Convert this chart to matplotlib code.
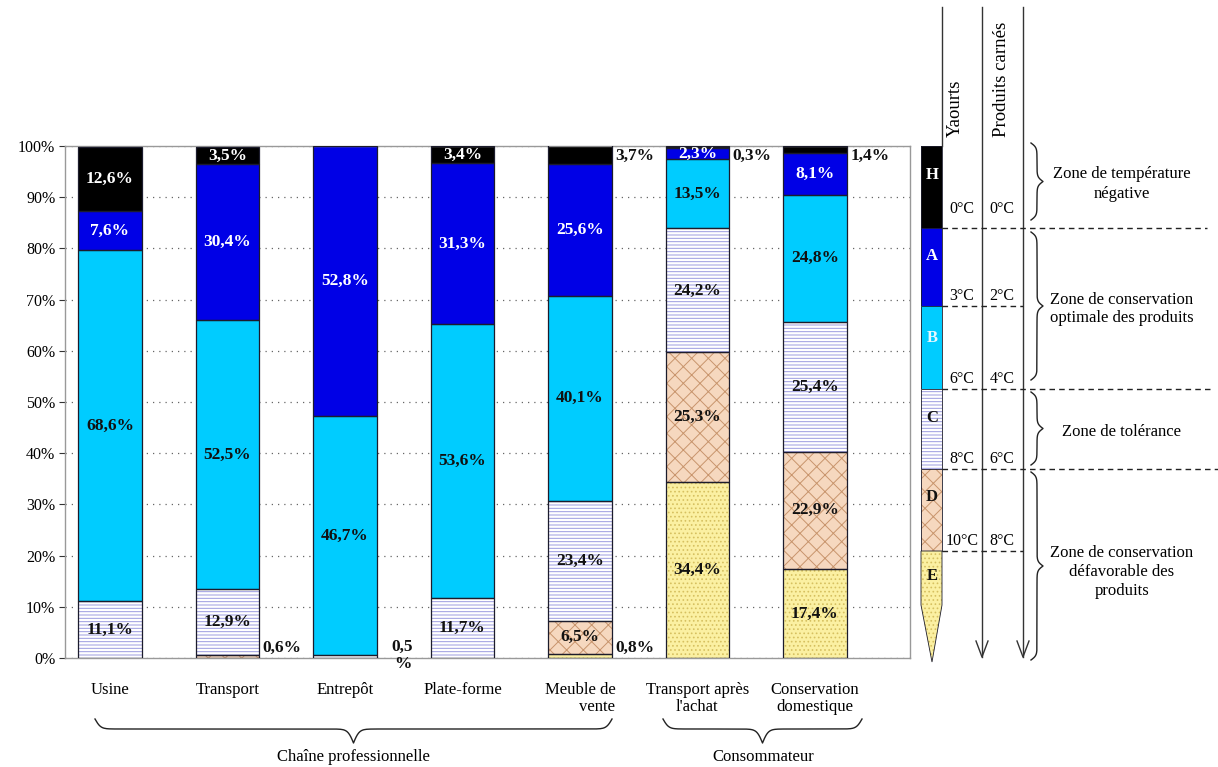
import numpy as np
import matplotlib
matplotlib.use("Agg")
import matplotlib.pyplot as plt
from matplotlib.patches import Rectangle, Polygon

plt.rcParams['font.family'] = ['Liberation Serif', 'DejaVu Serif']
plt.rcParams['hatch.linewidth'] = 0.7

# data, bottom to top: E, D, C, B, A, H (in %)
categories = ["Usine", "Transport", "Entrepôt", "Plate-forme", "Meuble de\nvente",
              "Transport après\nl'achat", "Conservation\ndomestique"]
groups = ["Chaîne professionnelle", "Consommateur"]
E_vals = [0, 0, 0, 0, 0.8, 34.4, 17.4]
D_vals = [0, 0.6, 0, 0, 6.5, 25.3, 22.9]
C_vals = [11.1, 12.9, 0.5, 11.7, 23.4, 24.2, 25.4]
B_vals = [68.6, 52.5, 46.7, 53.6, 40.1, 13.5, 24.8]
A_vals = [7.6, 30.4, 52.8, 31.3, 25.6, 2.3, 8.1]
H_vals = [12.6, 3.5, 0, 3.4, 3.7, 0.3, 1.4]
yticks = [0, 10, 20, 30, 40, 50, 60, 70, 80, 90, 100]

# labels written next to the bar instead of inside
outside = {('D', 1), ('C', 2), ('E', 4), ('H', 4), ('H', 5), ('H', 6)}

zones = ["Zone de température\nnégative", "Zone de conservation\noptimale des produits",
         "Zone de tolérance", "Zone de conservation\ndéfavorable des\nproduits"]
temp_yaourts = ["0°C", "3°C", "6°C", "8°C", "10°C"]
temp_carnes = ["0°C", "2°C", "4°C", "6°C", "8°C"]

# style of each series: face, hatch, hatch colour, text colour
styles = {
    'E': ('#fbf0a2', '....', '#d6c060', '#111111'),
    'D': ('#f6d8bf', 'xx', '#c8946c', '#111111'),
    'C': ('#ffffff', '-----', '#9b9be0', '#111111'),
    'B': ('#00ccff', None, '#00ccff', '#111111'),
    'A': ('#0000e6', None, '#0000e6', '#ffffff'),
    'H': ('#000000', None, '#000000', '#ffffff'),
}
series = [('E', E_vals), ('D', D_vals), ('C', C_vals), ('B', B_vals), ('A', A_vals), ('H', H_vals)]

fig = plt.figure(figsize=(12.18, 7.67), dpi=100)
W, Hpx = 1218, 767
ax = fig.add_axes([65 / W, (Hpx - 658) / Hpx, (910 - 65) / W, (658 - 146) / Hpx])

x = np.arange(len(categories))
width = 0.54
bottom = np.zeros(len(categories))
for name, vals in series:
    vals = np.array(vals, dtype=float)
    face, hatch, hcol, tcol = styles[name]
    keep = vals > 0
    ax.bar(x[keep], vals[keep], width, bottom=bottom[keep], color=face, hatch=hatch,
           edgecolor=hcol, linewidth=0, zorder=2)
    ax.bar(x[keep], vals[keep], width, bottom=bottom[keep], fill=False,
           edgecolor='#1c1c2c', linewidth=0.9, zorder=3)
    for i in np.where(keep)[0]:
        txt = f"{vals[i]:.1f}".replace('.', ',') + '%'
        mid = bottom[i] + vals[i] / 2
        if (name, i) in outside:
            y = min(max(mid, 1.9), 98.0)
            if name == 'C' and i == 2:
                ax.text(x[i] + width / 2 + 0.22, 3.8, txt.replace('%', '\n%'), ha='center',
                        va='top', fontsize=12.5, fontweight='bold', color='#111111',
                        linespacing=1.1, zorder=4, clip_on=False)
            else:
                ax.text(x[i] + width / 2 + 0.03, y, txt, ha='left', va='center',
                        fontsize=12.5, fontweight='bold', color='#111111', zorder=4)
        else:
            ax.text(x[i], mid, txt, ha='center', va='center', fontsize=12.5,
                    fontweight='bold', color=tcol, zorder=4)
    bottom += vals

ax.set_xlim(-0.383, 6.81)
ax.set_ylim(0, 100)
ax.set_yticks(yticks)
ax.set_yticklabels([f"{v}%" for v in yticks], fontsize=11.5)
ax.set_xticks(x)
ax.set_xticklabels(categories, fontsize=12, linespacing=1.1, va='top')
ax.get_xticklabels()[4].set_multialignment('right')
ax.tick_params(axis='x', length=0, pad=17)
ax.tick_params(axis='y', length=4, direction='out', color='#333333', pad=3)
for sp in ax.spines.values():
    sp.set_color('#999999')
    sp.set_linewidth(1.0)
ax.yaxis.grid(True, linestyle=(0, (1, 4)), color='#666666', linewidth=0.9)
ax.set_axisbelow(True)

# overlay in pixel coordinates for the thermometer, braces and notes
ov = fig.add_axes([0, 0, 1, 1])
ov.set_xlim(0, W)
ov.set_ylim(Hpx, 0)
ov.set_axis_off()


def draw_brace(a, lo, hi, base, d_end, d_tip, vertical=False, beta=0.35):
    n = 200
    half = np.linspace(lo, (lo + hi) / 2, n)
    s1 = 1 / (1 + np.exp(-beta * (half - half[0])))
    s2 = 1 / (1 + np.exp(-beta * (half - half[-1])))
    v = (s1 - 0.5) * 2 * d_end + s2 * 2 * d_tip
    pos = np.concatenate([half, lo + hi - half[::-1]])
    off = base + np.concatenate([v, v[::-1]])
    if vertical:
        a.plot(off, pos, color='#222222', lw=1.0)
    else:
        a.plot(pos, off, color='#222222', lw=1.0)


# thermometer
tx0, tx1 = 921, 942
seg_edges = [146, 228, 306, 389, 469, 551]
for (name, _), top, bot in zip(series[::-1][:5], seg_edges[:-1], seg_edges[1:]):
    face, hatch, hcol, tcol = styles[name]
    ov.add_patch(Rectangle((tx0, top), tx1 - tx0, bot - top, facecolor=face, hatch=hatch,
                           edgecolor=hcol, linewidth=0))
    ov.add_patch(Rectangle((tx0, top), tx1 - tx0, bot - top, fill=False,
                           edgecolor='#1c1c2c', linewidth=0.6))
face, hatch, hcol, tcol = styles['E']
tip = [(tx0, 551), (tx1, 551), (tx1, 605), (932, 662), (tx0, 605)]
ov.add_patch(Polygon(tip, closed=True, facecolor=face, hatch=hatch, edgecolor=hcol, linewidth=0))
ov.add_patch(Polygon(tip, closed=True, fill=False, edgecolor='#1c1c2c', linewidth=0.6))

letter_y = {'H': 175, 'A': 256, 'B': 338, 'C': 418, 'D': 497, 'E': 576}
for name, ly in letter_y.items():
    col = '#ffffff' if name in ('H', 'A', 'B') else '#111111'
    if name == 'B':
        col = '#e8f8ff'
    ov.text(932, ly, name, ha='center', va='center', fontsize=12, fontweight='bold', color=col)

# vertical lines with arrows
ov.plot([942, 942], [7, 146], color='#333333', lw=1.0)
for lx in (982, 1023):
    ov.plot([lx, lx], [7, 657], color='#333333', lw=1.0)
    ov.plot([lx - 6, lx, lx + 6], [641, 657, 641], color='#333333', lw=1.0)
ov.text(955, 137, "Yaourts", rotation=90, ha='center', va='bottom', fontsize=13.5)
ov.text(1001, 137, "Produits carnés", rotation=90, ha='center', va='bottom', fontsize=13.5)

# dashed limits and temperatures
dash_y = [228, 306, 389, 469, 551]
dash_end = [1207, 1023, 1210, 1218, 1023]
label_lift = [11, 2, 2, 2, 2]
for dy, de, lift, t1, t2 in zip(dash_y, dash_end, label_lift, temp_yaourts, temp_carnes):
    ov.plot([942, de], [dy, dy], color='#222222', lw=1.0, dashes=(4, 3))
    ov.text(962, dy - lift, t1, ha='center', va='bottom', fontsize=11.5)
    ov.text(1002, dy - lift, t2, ha='center', va='bottom', fontsize=11.5)

# zone braces and notes
zone_spans = [(143, 220), (232, 380), (392, 465), (472, 660)]
zone_text_y = [184, 309, 432, 572]
for (lo, hi), zy, ztxt in zip(zone_spans, zone_text_y, zones):
    draw_brace(ov, lo, hi, 1031, 6, 6, vertical=True, beta=0.45)
    ov.text(1122, zy, ztxt, ha='center', va='center', fontsize=12, linespacing=1.25)

# group braces under categories
draw_brace(ov, 95, 612, 719, 10, 14)
draw_brace(ov, 663, 862, 719, 10, 14)
ov.text(353, 757, groups[0], ha='center', va='center', fontsize=12)
ov.text(763, 757, groups[1], ha='center', va='center', fontsize=12)

fig.savefig("out.png", dpi=100)
